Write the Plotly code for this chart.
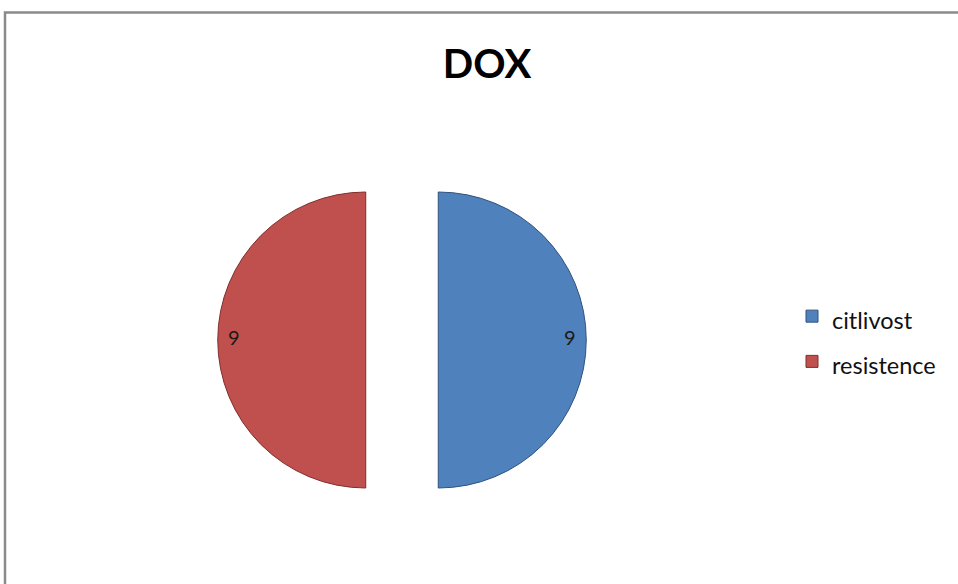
import plotly.graph_objects as go
import math

# Data
categories = ["citlivost", "resistence"]
values = [9, 9]
colors = ["#4F81BD", "#C0504D"]
edge_colors = ["#2F527D", "#7F2E2C"]
title_text = "DOX"

W, H = 958, 584
FONT = "Lato, 'Open Sans', sans-serif"

# Geometry (pixels)
cx_px, cy_px = 402, 340
r_px = 148
pull = 0.245
ext = r_px * (1 + pull)
dom_x = [(cx_px - ext) / W, (cx_px + ext) / W]
dom_y = [1 - (cy_px + ext) / H, 1 - (cy_px - ext) / H]

legend_labels = [f"<span style='font-size:23.5px'>{c}</span>" for c in categories]

fig = go.Figure()
fig.add_trace(go.Pie(
    labels=legend_labels,
    values=values,
    sort=False,
    direction="clockwise",
    rotation=0,
    pull=[pull] * len(values),
    marker=dict(colors=colors, line=dict(color=edge_colors, width=1)),
    textinfo="none",
    hoverinfo="label+value",
    domain=dict(x=dom_x, y=dom_y),
    showlegend=True,
))

# value labels near outer edge of each slice
total = sum(values)
cum = 0
for v in values:
    mid = (cum + v / 2) / total  # fraction clockwise from top
    ang = math.pi / 2 - 2 * math.pi * mid
    dist = pull * r_px + 0.89 * r_px
    px = cx_px + dist * math.cos(ang)
    py = cy_px - dist * math.sin(ang) - 3
    fig.add_annotation(x=px / W, y=1 - py / H, xref="paper", yref="paper",
                       text=str(v), showarrow=False,
                       font=dict(family=FONT, size=20, color="#1a1a1a"),
                       xanchor="center", yanchor="middle")
    cum += v

fig.update_layout(
    width=W, height=H,
    margin=dict(l=0, r=0, t=0, b=0),
    paper_bgcolor="white",
    plot_bgcolor="white",
    title=dict(text=f"<b>{title_text}</b>", x=487 / W, xanchor="center",
               y=1 - 64 / H, yanchor="middle",
               font=dict(family=FONT, size=40, color="black")),
    legend=dict(x=792 / W, xanchor="left", y=1 - 339 / H, yanchor="middle",
                font=dict(family=FONT, size=32.5, color="#111111"),
                bgcolor="rgba(0,0,0,0)"),
    shapes=[dict(type="rect", xref="paper", yref="paper",
                 x0=5 / W, x1=1.05, y0=-0.05, y1=1 - 12.5 / H,
                 line=dict(color="#8a8a8a", width=2.5), fillcolor="rgba(0,0,0,0)")],
)

fig.write_html("out.html")
